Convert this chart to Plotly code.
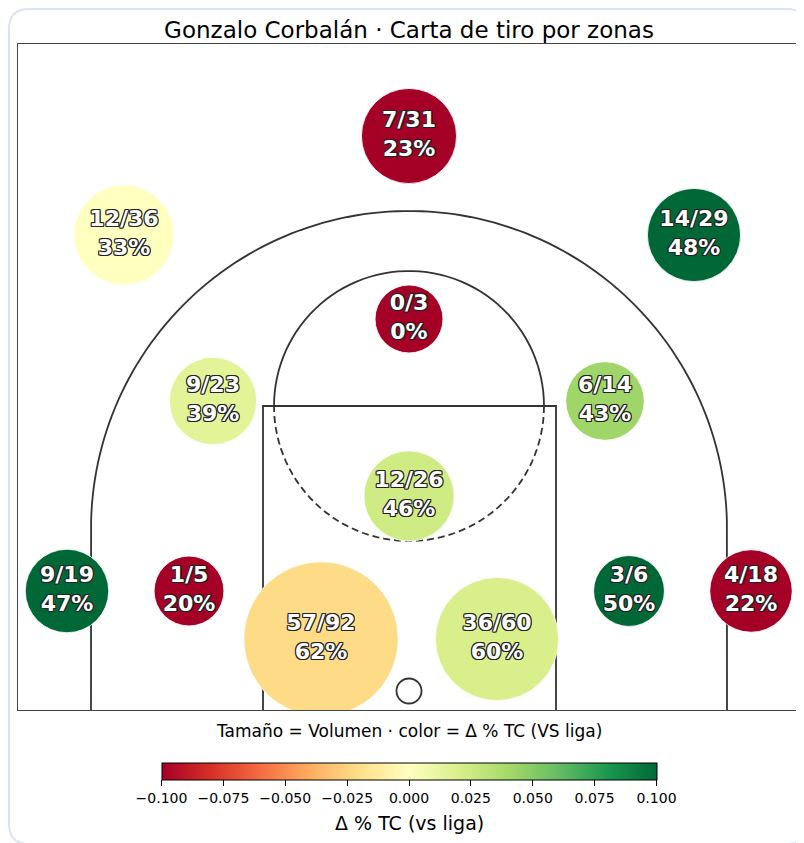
import numpy as np
import plotly.graph_objects as go

# zone data (court units, basket at 0,0)
zone_x = [0, -285, 285, 0, -196, 196, 0, -342, -220, -88, 88, 220, 342]
zone_y = [555, 456, 456, 372, 290, 290, 195, 100, 100, 52, 52, 100, 100]
makes = [7, 12, 14, 0, 9, 6, 12, 9, 1, 57, 36, 3, 4]
attempts = [31, 36, 29, 3, 23, 14, 26, 19, 5, 92, 60, 6, 18]
delta_fg = [-0.10, 0.0, 0.10, -0.10, 0.015, 0.042, 0.024, 0.10, -0.10, -0.022, 0.02, 0.10, -0.10]

cb_ticks = [-0.1, -0.075, -0.05, -0.025, 0.0, 0.025, 0.05, 0.075, 0.1]

# page body adds 8px, so the figure is a bit smaller than the window
W, H = 796, 835
ML, MR, MT, MB = 10, 4, 36, 133
x_rng = [-391, 391]
y_rng = [-19, 647]

FONT = "DejaVu Sans"
LINE = "#333333"

labels = [f"{m}/{a}<br>{round(100 * m / a)}%" for m, a in zip(makes, attempts)]
sizes = [65 + 0.97 * a for a in attempts]

def fmt(v):
    s = f"{abs(v):.3f}"
    return ("\u2212" + s) if v < 0 else s

outline = ", ".join(f"{dx}px {dy}px 0 #222" for dx in (-1, 0, 1) for dy in (-1, 0, 1) if dx or dy)

shots = go.Scatter(
    x=zone_x, y=zone_y,
    mode="markers+text",
    text=labels,
    textposition="middle center",
    textfont=dict(family=FONT, size=22, color="white", weight="bold", shadow=outline),
    marker=dict(size=sizes, sizemode="diameter", color=delta_fg,
                colorscale="RdYlGn", cmin=-0.1, cmax=0.1, opacity=1,
                line=dict(color="white", width=0.8),
                showscale=True,
                colorbar=dict(orientation="h", x=0.5, xanchor="center",
                              y=-0.0796, yanchor="top", lenmode="pixels", len=495,
                              thickness=17, xpad=0, ypad=0,
                              outlinecolor="black", outlinewidth=1,
                              ticks="outside", ticklen=6, tickcolor="black",
                              tickvals=cb_ticks, ticktext=[fmt(v) for v in cb_ticks],
                              tickfont=dict(family=FONT, size=14, color="black"))),
    hoverinfo="skip",
    showlegend=False,
)

fig = go.Figure(data=[shots])

shapes = []
line = dict(color=LINE, width=1.8)
# paint
shapes.append(dict(type="path", path="M -146,-19 L -146,285 L 147,285 L 147,-19",
                   line=line, layer="below"))
# free throw circle: solid top, dashed bottom
t = np.linspace(0, np.pi, 60)
top = " L ".join(f"{135 * np.cos(a):.2f},{285 + 135 * np.sin(a):.2f}" for a in t)
bot = " L ".join(f"{135 * np.cos(a):.2f},{285 - 135 * np.sin(a):.2f}" for a in t)
shapes.append(dict(type="path", path="M " + top, line=line, layer="below"))
shapes.append(dict(type="path", path="M " + bot, line=dict(color=LINE, width=1.8, dash="7px,4px"),
                   layer="below"))
# three point line
a0 = np.arcsin(9 / 318)
t = np.linspace(np.pi - a0, a0, 120)
arc = " L ".join(f"{318 * np.cos(a):.2f},{162 + 318 * np.sin(a):.2f}" for a in t)
shapes.append(dict(type="path", path=f"M -318,-19 L {arc} L 318,-19", line=line, layer="below"))
# rim
shapes.append(dict(type="circle", x0=-12.5, x1=12.5, y0=-12.5, y1=12.5, line=line, layer="below"))

# outer card (figure pixel coords -> paper)
pw, ph = W - ML - MR, H - MT - MB
def px(x):
    return (x - ML) / pw
def py(y):
    return (H - MB - y) / ph
cl, cr, ct, cbm, r = 1, 799, 1, 836, 20
card = (f"M {px(cl)},{py(ct + r)} Q {px(cl)},{py(ct)} {px(cl + r)},{py(ct)} "
        f"L {px(cr - r)},{py(ct)} Q {px(cr)},{py(ct)} {px(cr)},{py(ct + r)} "
        f"L {px(cr)},{py(cbm - r)} Q {px(cr)},{py(cbm)} {px(cr - r)},{py(cbm)} "
        f"L {px(cl + r)},{py(cbm)} Q {px(cl)},{py(cbm)} {px(cl)},{py(cbm - r)} Z")
shapes.append(dict(type="path", xref="paper", yref="paper", path=card,
                   line=dict(color="#dbe3ef", width=2), layer="below"))

fig.update_layout(
    width=W, height=H, autosize=False,
    margin=dict(l=ML, r=MR, t=MT, b=MB),
    paper_bgcolor="white", plot_bgcolor="white",
    font=dict(family=FONT, color="black"),
    title=dict(text="Gonzalo Corbal\u00e1n \u00b7 Carta de tiro por zonas",
               x=(401 / W), xanchor="center", y=1 - 22 / H, yanchor="middle",
               yref="container", font=dict(family=FONT, size=23, color="black")),
    xaxis=dict(range=x_rng, showgrid=False, zeroline=False, showticklabels=False,
               ticks="", showline=True, mirror=True, linecolor="#444", linewidth=1),
    yaxis=dict(range=y_rng, showgrid=False, zeroline=False, showticklabels=False,
               ticks="", showline=True, mirror=True, linecolor="#444", linewidth=1),
    shapes=shapes,
    annotations=[dict(text="Tama\u00f1o = Volumen \u00b7 color = \u0394 % TC (VS liga)",
                      xref="paper", yref="paper", x=0.5, y=0, yshift=-21,
                      xanchor="center", yanchor="middle", showarrow=False,
                      font=dict(family=FONT, size=17, color="black")),
                 dict(text="\u0394 % TC (vs liga)",
                      xref="paper", yref="paper", x=0.5, y=0, yshift=-113,
                      xanchor="center", yanchor="middle", showarrow=False,
                      font=dict(family=FONT, size=19, color="black"))],
)

fig.write_html("out.html")
